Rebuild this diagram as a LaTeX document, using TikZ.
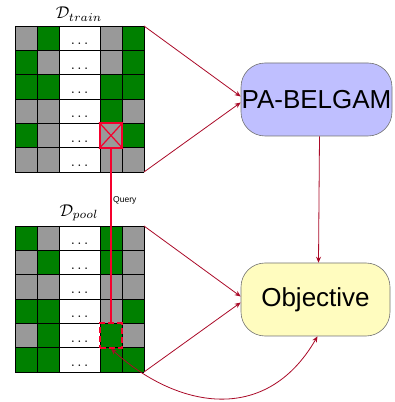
\documentclass[tikz,border=0pt]{standalone}
\usepackage{amsmath}
\usepackage{graphicx}
\usepackage{fontspec}
\newfontfamily\helv{Liberation Sans}
\usetikzlibrary{arrows.meta}
\definecolor{cellg}{RGB}{0,128,0}
\definecolor{celly}{RGB}{153,153,153}
\definecolor{qred}{RGB}{245,0,45}
\definecolor{arrred}{RGB}{170,10,40}

\begin{document}
\begin{tikzpicture}[x=1pt,y=1pt,
    gridline/.style={black,line width=0.7pt},
    dotcell/.style={anchor=base,inner sep=0pt},
    flow/.style={arrred,line width=0.8pt,-{Stealth[length=6pt,width=5pt]}},
    model/.style={rounded corners=24pt,draw=black!55,line width=0.6pt,
        minimum height=73pt,inner sep=0pt,font=\helv\fontsize{26}{28}\selectfont}]
    \useasboundingbox (0,0) rectangle (394,402);

    % training set
    \begin{scope}[shift={(0,376)}]
        \foreach \ca/\cb/\cc/\cd [count=\i from 0] in
            {y/g/y/g, g/y/y/g, g/g/g/g, y/y/g/y, g/y/y/g, y/y/y/y}{
            \fill[cell\ca] (15,-\i*24.33) rectangle ++(22,-24.33);
            \fill[cell\cb] (37,-\i*24.33) rectangle ++(22,-24.33);
            \fill[cell\cc] (100,-\i*24.33) rectangle ++(22,-24.33);
            \fill[cell\cd] (122,-\i*24.33) rectangle ++(22,-24.33);
            \node[dotcell] at (79.5,-\i*24.33-19) {\scalebox{1.5}{$\ldots$}};
        }
        \foreach \x in {15,37,59,100,122,144}
            \draw[gridline] (\x,0) -- (\x,-146);
        \foreach \i in {0,...,6}
            \draw[gridline] (15,-\i*24.33) -- (144,-\i*24.33);
    \end{scope}
    \coordinate (trainNE) at (144,376);
    \coordinate (trainSE) at (144,230);
    \node (trainlbl) at (79,388) {\scalebox{1.7}{$\mathcal{D}_{train}$}};

    % pool set
    \begin{scope}[shift={(0,176)}]
        \foreach \ca/\cb/\cc/\cd [count=\i from 0] in
            {g/y/g/y, y/g/g/y, y/y/y/y, g/g/y/g, y/g/g/y, g/g/g/g}{
            \fill[cell\ca] (15,-\i*24.33) rectangle ++(22,-24.33);
            \fill[cell\cb] (37,-\i*24.33) rectangle ++(22,-24.33);
            \fill[cell\cc] (100,-\i*24.33) rectangle ++(22,-24.33);
            \fill[cell\cd] (122,-\i*24.33) rectangle ++(22,-24.33);
            \node[dotcell] at (79.5,-\i*24.33-19) {\scalebox{1.5}{$\ldots$}};
        }
        \foreach \x in {15,37,59,100,122,144}
            \draw[gridline] (\x,0) -- (\x,-146);
        \foreach \i in {0,...,6}
            \draw[gridline] (15,-\i*24.33) -- (144,-\i*24.33);
    \end{scope}
    \coordinate (poolNE) at (144,176);
    \coordinate (poolSE) at (144,30);
    \node (poollbl) at (79,189) {\scalebox{1.7}{$\mathcal{D}_{pool}$}};

    % queried sample
    \node[draw=qred,line width=2pt,minimum width=22pt,minimum height=24.33pt,inner sep=0pt] (picked) at (111,266.5) {};
    \draw[qred,line width=1.2pt] (picked.north west) -- (picked.south east);
    \draw[qred,line width=1.2pt] (picked.north east) -- (picked.south west);
    \node[draw=qred,line width=2pt,dash pattern=on 6pt off 3pt,minimum width=22pt,minimum height=24.33pt,inner sep=0pt] (cand) at (111,66.5) {};
    \draw[qred,line width=1.2pt] (picked.south) -- (cand.north);
    \node[anchor=west,inner sep=0pt] (query) at (113,202) {\helv\fontsize{8.5}{10}\selectfont Query};

    % model and objective
    \node[model,fill=blue!25,minimum width=151pt] (pa) at (316.5,302.5) {PA-BELGAM};
    \node[model,fill=yellow!25,minimum width=149pt] (obj) at (315.5,102.5) {Objective};

    \draw[flow] (trainNE) -- ([yshift=3pt]pa.west);
    \draw[flow] (trainSE) -- ([yshift=-3pt]pa.west);
    \draw[flow] (poolNE) -- ([yshift=3pt]obj.west);
    \draw[flow] (poolSE) -- ([yshift=-3pt]obj.west);
    \draw[flow] ([xshift=3pt]pa.south) -- ([xshift=3pt]obj.north);
    \draw[flow,{Stealth[length=6pt,width=5pt]}-{Stealth[length=6pt,width=5pt]}]
        (cand.south) .. controls (175,-5) and (265,-25) .. ([xshift=2pt]obj.south);
\end{tikzpicture}
\end{document}
